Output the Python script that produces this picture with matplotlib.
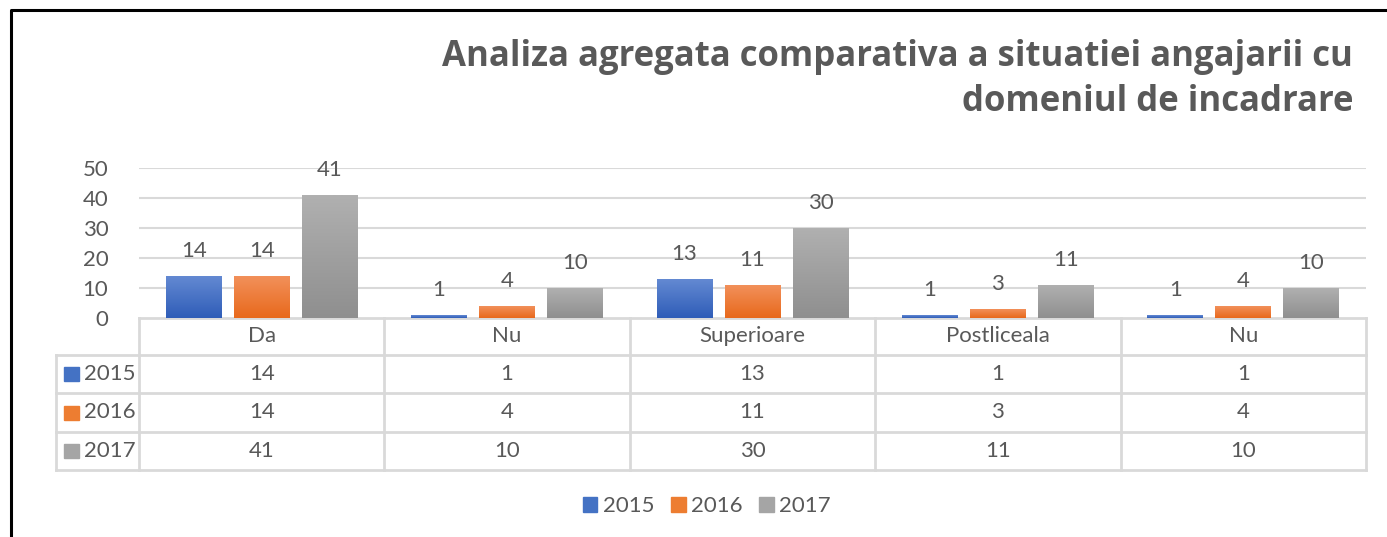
import matplotlib
matplotlib.use("Agg")
import matplotlib.pyplot as plt
import numpy as np
from matplotlib.patches import Rectangle

plt.rcParams['font.family'] = ['Lato', 'DejaVu Sans']

categories = ["Da", "Nu", "Superioare", "Postliceala", "Nu"]
years = ["2015", "2016", "2017"]
v2015 = [14, 1, 13, 1, 1]
v2016 = [14, 4, 11, 3, 4]
v2017 = [41, 10, 30, 11, 10]
series = [v2015, v2016, v2017]

colors = ["#4472C4", "#ED7D31", "#A5A5A5"]
# gradient ends (top, bottom) like the excel fill
grads = [("#6389D2", "#2F5DB8"), ("#F2905A", "#E8691C"), ("#B0B0B0", "#8F8F8F")]
txt = "#595959"
line = "#D9D9D9"
fs = 16

W, H = 1387, 537
fig = plt.figure(figsize=(W / 100, H / 100), dpi=100)

# overlay in pixel coords for the frame, title and data table
ov = fig.add_axes([0, 0, 1, 1], zorder=0)
ov.set_xlim(0, W)
ov.set_ylim(H, 0)
ov.axis('off')
ov.plot([11, 11, W], [H, 10, 10], color="black", lw=2.2, solid_capstyle='butt')

ov.text(1353, 66, "Analiza agregata comparativa a situatiei angajarii cu",
        ha='right', va='baseline', fontsize=25, fontweight='bold', color=txt, family='Open Sans')
ov.text(1353, 111, "domeniul de incadrare",
        ha='right', va='baseline', fontsize=25, fontweight='bold', color=txt, family='Open Sans')

# plot area
x0, x1 = 139, 1366
ax = fig.add_axes([x0 / W, (H - 318) / H, (x1 - x0) / W, 150 / H], zorder=2)
ax.patch.set_alpha(0)
ax.set_xlim(-0.5, len(categories) - 0.5)
ax.set_ylim(0, 50)
ax.set_yticks(range(0, 51, 10))
ax.set_xticks([])
for s in ax.spines.values():
    s.set_visible(False)
ax.tick_params(axis='y', length=0, pad=22, labelsize=fs, labelcolor=txt)
for t in range(10, 51, 10):
    ax.axhline(t, color=line, lw=1.5, zorder=0)

x = np.arange(len(categories))
offs = [-0.277, 0, 0.277]
bw = 0.228
for k, vals in enumerate(series):
    bars = ax.bar(x + offs[k], vals, bw, color=colors[k], zorder=2)
    top, bot = matplotlib.colors.to_rgb(grads[k][0]), matplotlib.colors.to_rgb(grads[k][1])
    g = np.linspace(0, 1, 64)[:, None]
    img = np.array(top)[None, None, :] * (1 - g[..., None]) + np.array(bot)[None, None, :] * g[..., None]
    for b in bars:
        bx, by = b.get_x(), b.get_y()
        im = ax.imshow(img, extent=[bx, bx + b.get_width(), by, by + b.get_height()],
                       aspect='auto', origin='upper', zorder=3)
        im.set_clip_path(b)
        ax.annotate(str(int(b.get_height())), (bx + b.get_width() / 2, b.get_height()),
                    xytext=(0, 11), textcoords='offset points', ha='center', va='bottom',
                    fontsize=fs, color=txt)
ax.set_xlim(-0.5, len(categories) - 0.5)
ax.set_ylim(0, 50)

# data table
colw = (x1 - x0) / len(categories)
rows = [318, 355, 393, 432, 470]
lx = 56
lw_t = 2.0
ov.plot([x0, x1], [rows[0], rows[0]], color=line, lw=lw_t)
for r in rows[1:]:
    ov.plot([lx, x1], [r, r], color=line, lw=lw_t)
ov.plot([lx, lx], [rows[1], rows[-1]], color=line, lw=lw_t)
for i in range(len(categories) + 1):
    xx = x0 + i * colw
    ov.plot([xx, xx], [rows[0], rows[-1]], color=line, lw=lw_t)
for i, c in enumerate(categories):
    cx = x0 + (i + 0.5) * colw
    ov.text(cx, (rows[0] + rows[1]) / 2, c, ha='center', va='center', fontsize=fs, color=txt)
    for k, vals in enumerate(series):
        ov.text(cx, (rows[k + 1] + rows[k + 2]) / 2, str(vals[i]), ha='center', va='center',
                fontsize=fs, color=txt)
for k, y in enumerate(years):
    cy = (rows[k + 1] + rows[k + 2]) / 2
    ov.add_patch(Rectangle((64, cy - 7), 15, 14, color=colors[k]))
    ov.text(84, cy, y, ha='left', va='center', fontsize=fs, color=txt)

# legend
handles = [Rectangle((0, 0), 1, 1, color=c) for c in colors]
leg = fig.legend(handles, years, loc='center', bbox_to_anchor=(707 / W, 1 - 506 / H),
                 ncol=3, frameon=False, fontsize=fs, handlelength=0.65, handleheight=0.65,
                 handletextpad=0.25, columnspacing=0.75)
for t in leg.get_texts():
    t.set_color(txt)

fig.savefig("out.png", dpi=100)
